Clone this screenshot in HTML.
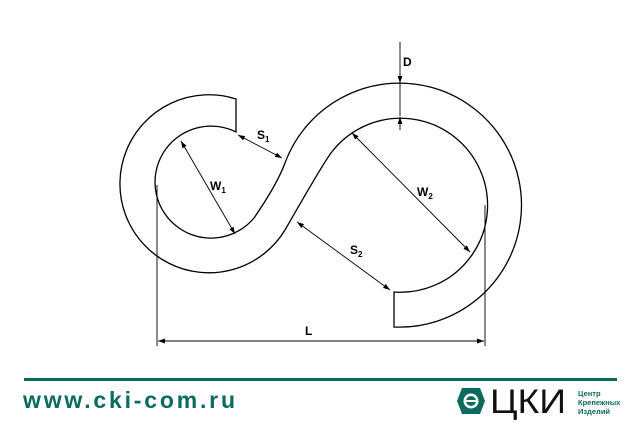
<!DOCTYPE html>
<html><head><meta charset="utf-8"><style>
html,body{margin:0;padding:0;background:#fff;width:639px;height:425px;overflow:hidden}
</style></head><body>
<svg width="639" height="425" viewBox="0 0 639 425" xmlns="http://www.w3.org/2000/svg">
<defs>
<marker id="a" viewBox="0 0 10 10" refX="10" refY="5" markerWidth="7" markerHeight="7" orient="auto-start-reverse" markerUnits="userSpaceOnUse"><path d="M0,1.5 L10,5 L0,8.5 Z" fill="#000"/></marker>
</defs>
<g fill="none" stroke="#000" stroke-width="1.3">
<path d="M236,99 A89,89 0 1 0 285,230 C292.5,217 322,165 331,153 A87,87 0 1 1 394,292 L394,327 A122,122 0 1 0 285,163 C278,182 265,202 254,218 A56,56 0 1 1 236,132 Z"/>
</g>
<g stroke="#000" stroke-width="0.9" fill="none">
<line x1="157" y1="185" x2="157" y2="346"/>
<line x1="485" y1="205" x2="485" y2="346"/>
<line x1="158" y1="341" x2="484" y2="341" marker-start="url(#a)" marker-end="url(#a)"/>
<line x1="400" y1="42" x2="400" y2="83" marker-end="url(#a)"/>
<line x1="400" y1="83" x2="400" y2="116"/>
<line x1="400" y1="130" x2="400" y2="117" marker-end="url(#a)"/>
<line x1="238" y1="135" x2="282" y2="158" marker-start="url(#a)" marker-end="url(#a)"/>
<line x1="181" y1="141" x2="235" y2="234" marker-start="url(#a)" marker-end="url(#a)"/>
<line x1="352" y1="133" x2="470" y2="252" marker-start="url(#a)" marker-end="url(#a)"/>
<line x1="297" y1="222" x2="390" y2="290" marker-start="url(#a)" marker-end="url(#a)"/>
</g>
<g font-family="Liberation Sans, sans-serif" font-size="12" font-weight="bold" fill="#000">
<text x="403" y="66">D</text>
<text x="257" y="139">S<tspan font-size="8" dy="3">1</tspan></text>
<text x="210" y="190">W<tspan font-size="8" dy="3">1</tspan></text>
<text x="417" y="196">W<tspan font-size="8" dy="3">2</tspan></text>
<text x="350" y="254">S<tspan font-size="8" dy="3">2</tspan></text>
<text x="305" y="335">L</text>
</g>
<rect x="24" y="378" width="593" height="3" fill="#0b6b5c"/>
<text x="23" y="408" font-family="Liberation Sans, sans-serif" font-weight="bold" font-size="23" textLength="212" lengthAdjust="spacing" fill="#0b6b5c">www.cki-com.ru</text>
<g transform="translate(471,401)">
<polygon points="-9,-13 9,-13 14,0 9,13 -9,13 -14,0" fill="#0b6b5c"/>
<circle r="7.5" fill="#fff"/>
<circle r="5" fill="#0b6b5c"/>
<rect x="-6" y="-1" width="12" height="2" fill="#fff"/>
</g>
<text x="490" y="413" font-family="Liberation Sans, Noto Sans CJK SC, sans-serif" font-size="34" textLength="76" lengthAdjust="spacingAndGlyphs" fill="#111">ЦКИ</text>
<g font-family="Liberation Sans, Noto Sans CJK SC, sans-serif" font-size="7.5" font-weight="bold" fill="#0b6b5c">
<text x="578" y="396">Центр</text>
<text x="578" y="405">Крепежных</text>
<text x="578" y="414">Изделий</text>
</g>
</svg>
</body></html>
